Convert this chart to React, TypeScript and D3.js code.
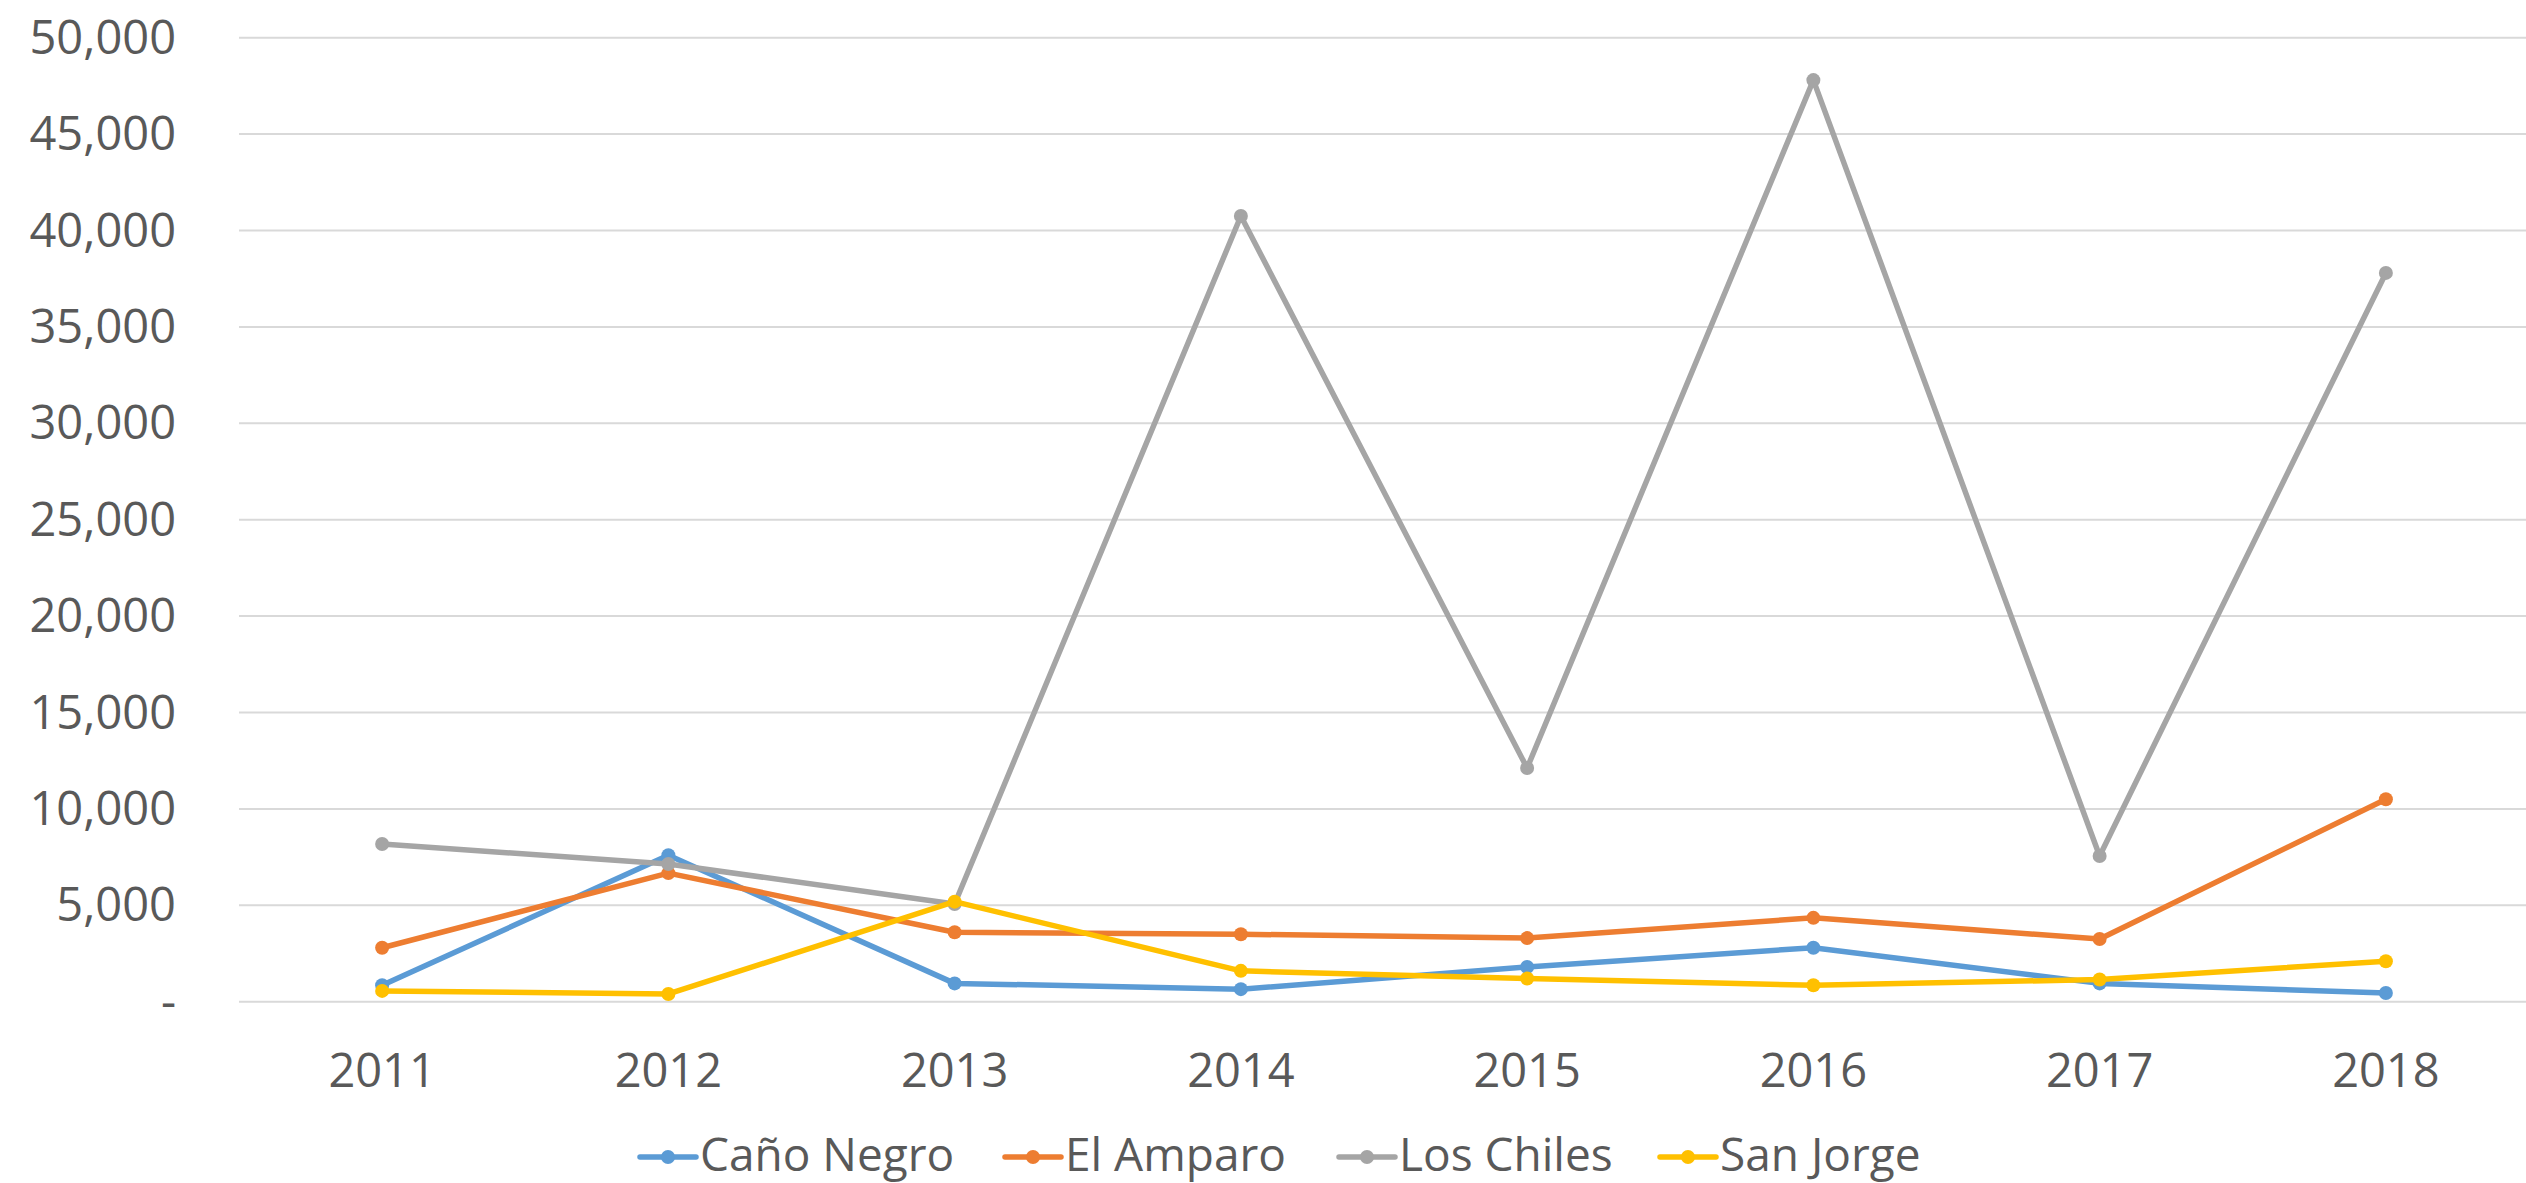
import React from 'react';
import * as d3 from 'd3';

const years = ['2011', '2012', '2013', '2014', '2015', '2016', '2017', '2018'];
const canoNegro = [850, 7600, 950, 650, 1800, 2800, 950, 450];
const elAmparo = [2800, 6670, 3600, 3500, 3300, 4350, 3250, 10500];
const losChiles = [8180, 7140, 5070, 40750, 12120, 47800, 7560, 37800];
const sanJorge = [560, 400, 5190, 1600, 1200, 850, 1150, 2100];
const yTicks = [0, 5000, 10000, 15000, 20000, 25000, 30000, 35000, 40000, 45000, 50000];

const series = [
  { name: 'Caño Negro', values: canoNegro, color: '#5B9BD5' },
  { name: 'El Amparo', values: elAmparo, color: '#ED7D31' },
  { name: 'Los Chiles', values: losChiles, color: '#A5A5A5' },
  { name: 'San Jorge', values: sanJorge, color: '#FFC000' },
];

const width = 2526;
const height = 1183;
const font = '"Open Sans", sans-serif';
const textColor = '#595959';

export default function App() {
  const x = d3.scalePoint<string>().domain(years).range([239, 2529]).padding(0.5);
  const y = d3.scaleLinear().domain([0, 50000]).range([1001.7, 37.7]);
  const fmt = d3.format(',');

  const line = d3
    .line<number>()
    .x((_, i) => x(years[i]) as number)
    .y((d) => y(d));

  const legendX = [640, 1005, 1339, 1660];

  return (
    <svg
      width={width}
      height={height}
      style={{ position: 'absolute', left: 0, top: 0, background: '#fff' }}
      fontFamily={font}
    >
      {yTicks.map((t) => (
        <g key={t}>
          <line x1={239} x2={width} y1={y(t)} y2={y(t)} stroke="#d9d9d9" strokeWidth={2} />
          <text
            x={176}
            y={y(t) + 16}
            textAnchor="end"
            fontSize={47}
            fill={textColor}
          >
            {t === 0 ? '-' : fmt(t)}
          </text>
        </g>
      ))}

      {years.map((yr) => (
        <text key={yr} x={x(yr)} y={1087} textAnchor="middle" fontSize={47} fill={textColor}>
          {yr}
        </text>
      ))}

      {series.map((s) => (
        <g key={s.name}>
          <path
            d={line(s.values) || ''}
            fill="none"
            stroke={s.color}
            strokeWidth={5.5}
            strokeLinejoin="round"
            strokeLinecap="round"
          />
          {s.values.map((v, i) => (
            <circle key={i} cx={x(years[i])} cy={y(v)} r={7} fill={s.color} />
          ))}
        </g>
      ))}

      {series.map((s, i) => (
        <g key={s.name} transform={`translate(${legendX[i]}, 1157)`}>
          <line x1={0} x2={56} y1={0} y2={0} stroke={s.color} strokeWidth={5.5} strokeLinecap="round" />
          <circle cx={28} cy={0} r={7} fill={s.color} />
          <text x={60} y={14} fontSize={46} fill={textColor}>
            {s.name}
          </text>
        </g>
      ))}
    </svg>
  );
}
